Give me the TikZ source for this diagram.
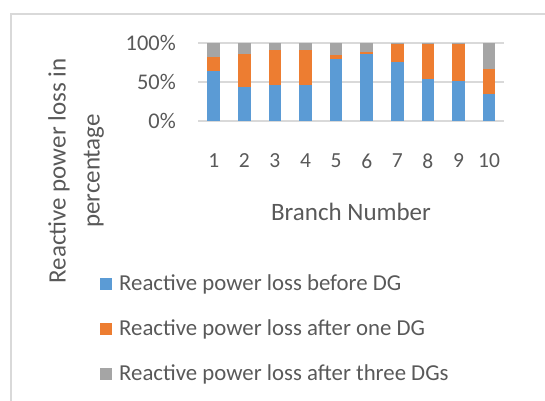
\documentclass[tikz,border=0pt]{standalone}
\usepackage{fontspec}
\setmainfont{Carlito}
\usepackage{xcolor}
\usepackage{tikz}
\usetikzlibrary{positioning}

\definecolor{barblue}{HTML}{5B9BD5}
\definecolor{barorange}{HTML}{ED7D31}
\definecolor{bargray}{HTML}{A5A5A5}
\definecolor{txtgray}{HTML}{595959}
\definecolor{gridgray}{HTML}{D9D9D9}

\begin{document}
\begin{tikzpicture}[x=1pt, y=-1pt, text=txtgray,
    ticklab/.style={font=\fontsize{22.4}{26}\selectfont, inner sep=0pt},
    bigtitle/.style={font=\fontsize{25}{34}\selectfont},
    keybox/.style={minimum size=12pt, inner sep=0pt}]
    \useasboundingbox (0,0) rectangle (545,400);
    % Khung ngoài
    \draw[gridgray, line width=1.5pt] (11,402) -- (11,14) -- (547,14);

    % Đường lưới và nhãn trục tung
    \foreach \v/\lab in {0/0\%, 50/50\%, 100/100\%} {
        \draw[gridgray, line width=1.2pt] (198,{121-0.78*\v}) -- (504,{121-0.78*\v});
        \node[ticklab, anchor=east] (tick\v) at (176,{121-0.78*\v}) {\lab};
    }

    % Các cột chồng (xanh, cam, xám)
    \foreach \i/\b/\o in {1/.645/.825, 2/.43/.855, 3/.46/.915, 4/.46/.915,
        5/.79/.84, 6/.86/.885, 7/.76/.995, 8/.535/.995, 9/.51/.995, 10/.34/.67} {
        \pgfmathsetmacro\xc{213.7+30.6*(\i-1)}
        \fill[barblue] (\xc-6.35,121) rectangle (\xc+6.35,{121-78*\b});
        \fill[barorange] (\xc-6.35,{121-78*\b}) rectangle (\xc+6.35,{121-78*\o});
        \fill[bargray] (\xc-6.35,{121-78*\o}) rectangle (\xc+6.35,43);
        \node[font=\fontsize{21.5}{26}\selectfont] (cat\i) at (\xc,161) {\i};
    }

    % Tiêu đề các trục
    \node[bigtitle] (xtitle) at (351,212) {Branch Number};
    \node[bigtitle, rotate=90, align=center] (ytitle) at (76,171)
        {Reactive power loss in\\percentage};

    % Chú thích
    \foreach \c/\t [count=\k] in {barblue/before DG, barorange/after one DG,
        bargray/after three DGs} {
        \node[keybox, fill=\c] (key\k) at (106,{239+45*\k}) {};
        \node[anchor=base west, inner sep=0pt, font=\fontsize{22.8}{26}\selectfont]
            (entry\k) at (119,{245.5+45*\k}) {Reactive power loss \t};
    }
\end{tikzpicture}
\end{document}
